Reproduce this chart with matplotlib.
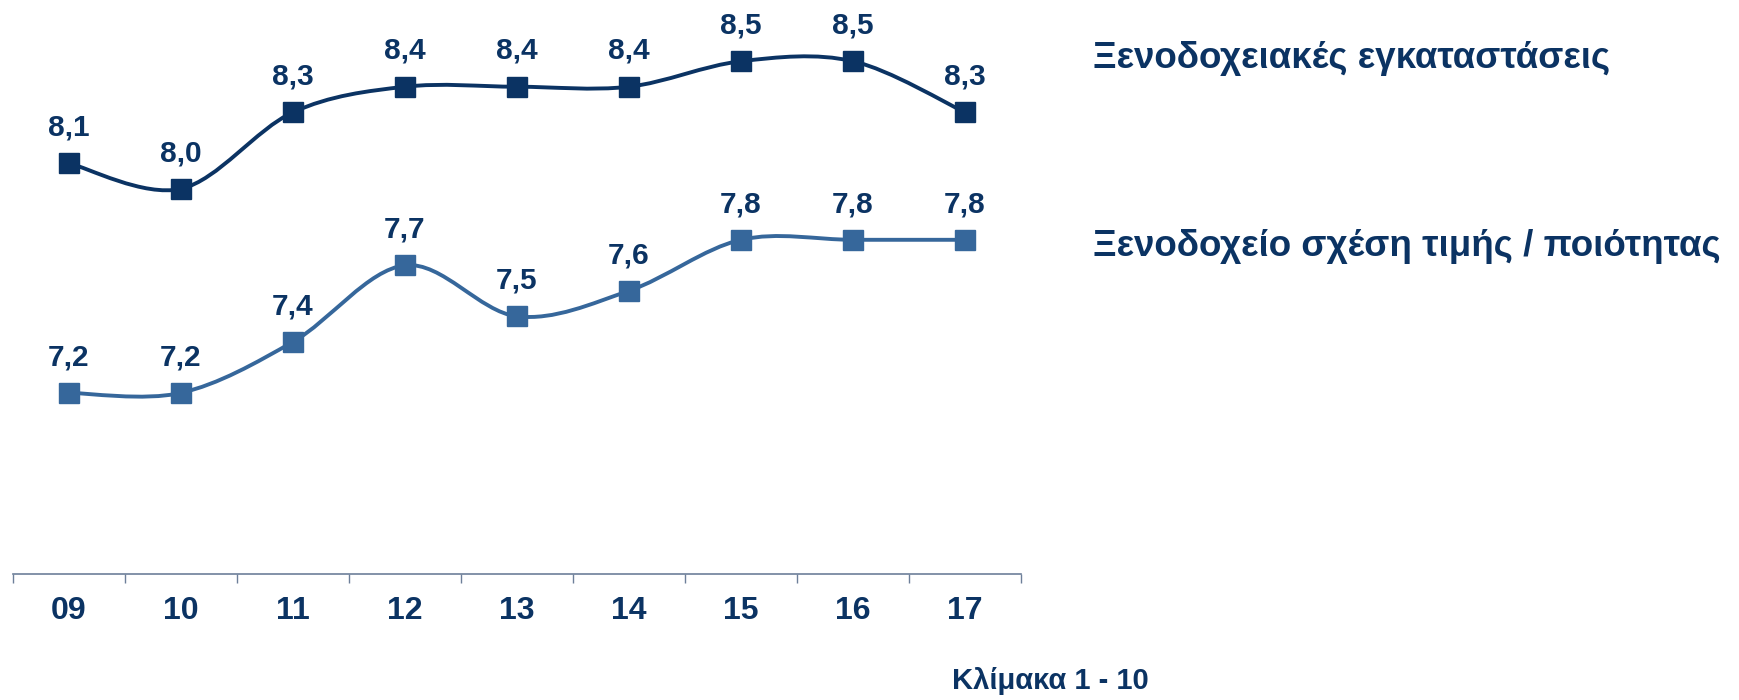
import matplotlib
matplotlib.use("Agg")
import matplotlib.pyplot as plt
from matplotlib.path import Path
from matplotlib.patches import PathPatch

plt.rcParams["font.family"] = ["Liberation Sans", "DejaVu Sans"]
plt.rcParams["font.weight"] = "bold"

# data
years = ["09", "10", "11", "12", "13", "14", "15", "16", "17"]
facilities = [8.1, 8.0, 8.3, 8.4, 8.4, 8.4, 8.5, 8.5, 8.3]
value_for_money = [7.2, 7.2, 7.4, 7.7, 7.5, 7.6, 7.8, 7.8, 7.8]
series_names = ["Ξενοδοχειακές εγκαταστάσεις", "Ξενοδοχείο σχέση τιμής / ποιότητας"]
scale_note = "Κλίμακα 1 - 10"

DARK = "#0b3363"
LIGHT = "#36679b"
AXIS = "#6d7f99"


def smooth_path(xs, ys):
    # Excel-style smoothed line: cubic bezier with catmull-rom control points
    pts = list(zip(xs, ys))
    n = len(pts)
    verts = [pts[0]]
    codes = [Path.MOVETO]
    for i in range(n - 1):
        p0 = pts[max(i - 1, 0)]
        p1 = pts[i]
        p2 = pts[i + 1]
        p3 = pts[min(i + 2, n - 1)]
        c1 = (p1[0] + (p2[0] - p0[0]) / 6, p1[1] + (p2[1] - p0[1]) / 6)
        c2 = (p2[0] - (p3[0] - p1[0]) / 6, p2[1] - (p3[1] - p1[1]) / 6)
        verts += [c1, c2, p2]
        codes += [Path.CURVE4] * 3
    return Path(verts, codes)


fig = plt.figure(figsize=(17.4, 7), dpi=100)
ax = fig.add_axes([13 / 1740, 126 / 700, 1008 / 1740, 574 / 700])
ax.set_xlim(-0.5, len(years) - 0.5)
ax.set_ylim(6.49, 8.74)

x = list(range(len(years)))
for vals, color in [(facilities, DARK), (value_for_money, LIGHT)]:
    ax.add_patch(PathPatch(smooth_path(x, vals), facecolor="none",
                           edgecolor=color, lw=2.8, zorder=2))
    ax.plot(x, vals, ls="none", marker="s", ms=15, color=color, zorder=3)
    for xi, v in zip(x, vals):
        ax.annotate(f"{v:.1f}".replace(".", ","), (xi, v), xytext=(0, 20),
                    textcoords="offset points", ha="center", va="baseline",
                    fontsize=21.5, fontweight="bold", color=DARK)

for s in ["top", "left", "right"]:
    ax.spines[s].set_visible(False)
ax.spines["bottom"].set_color(AXIS)
ax.spines["bottom"].set_linewidth(1.2)
ax.set_yticks([])
ax.set_xticks([i - 0.5 for i in range(len(years) + 1)])
ax.set_xticklabels([])
ax.tick_params(axis="x", which="major", length=6.5, width=1.0, color=AXIS, direction="out")
ax.set_xticks(x, minor=True)
ax.set_xticklabels(years, minor=True, fontsize=23, fontweight="bold", color=DARK)
ax.tick_params(axis="x", which="minor", length=0, pad=16)

fig.text(1093 / 1740, 1 - 58 / 700, series_names[0], ha="left", va="center",
         fontsize=26.5, fontweight="bold", color=DARK)
fig.text(1093 / 1740, 1 - 247 / 700, series_names[1], ha="left", va="center",
         fontsize=26.5, fontweight="bold", color=DARK)
fig.text(1149 / 1740, 1 - 681 / 700, scale_note, ha="right", va="center",
         fontsize=21, fontweight="bold", color=DARK)

fig.savefig("out.png", dpi=100)
